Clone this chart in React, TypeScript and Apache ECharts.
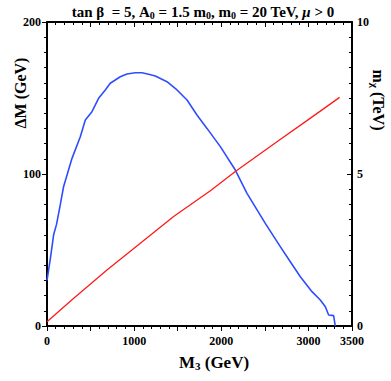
import React, { useEffect, useRef } from "react";
import * as echarts from "echarts";

const blueM3 = [0, 40, 76, 110, 153, 190, 287, 382, 440, 516, 592, 669, 726, 841, 918, 1013, 1090, 1166, 1243, 1377, 1492, 1607, 1721, 1836, 1989, 2161, 2295, 2505, 2677, 2792, 2907, 3041, 3136, 3194, 3232, 3289, 3308];
const blueDM = [30, 45, 60, 67, 80, 91.6, 110.3, 124.5, 135.5, 141, 149.8, 155.3, 159.7, 164, 165.8, 166.6, 166.6, 165.6, 164.5, 160.7, 155.3, 148.7, 138.8, 130, 118, 102.6, 87.3, 67.5, 52.2, 42.3, 32.4, 22.6, 17.1, 12.7, 7.2, 6.8, 0];
const redM3 = [0, 287, 688, 1071, 1453, 1875, 2161, 2639, 3019, 3358];
const redMchi = [0.14, 0.86, 1.84, 2.72, 3.6, 4.45, 5.08, 6.06, 6.83, 7.52];
const xLabels = [0, 1000, 2000, 3000, 3500];

const FONT = "'Liberation Serif', 'Times New Roman', serif";

const mkAxis = (inside: boolean, split: number) => ({
  axisLine: { show: true, onZero: false, lineStyle: { color: "black", width: 2 } },
  axisTick: { show: true, inside, length: 5, lineStyle: { color: "black", width: 1 } },
  minorTick: { show: true, splitNumber: split, length: 3, lineStyle: { color: "black", width: 1 } },
  splitLine: { show: false },
});

export default function App() {
  const ref = useRef<HTMLDivElement>(null);
  useEffect(() => {
    if (!ref.current) return;
    const chart = echarts.init(ref.current, null, { renderer: "svg" });
    chart.setOption({
      animation: false,
      grid: { left: 47, right: 39, top: 22, bottom: 55 },
      xAxis: [
        {
          type: "value", position: "bottom", min: 0, max: 3500, interval: 500, ...mkAxis(false, 5),
          axisLabel: {
            fontFamily: FONT, fontWeight: "bold", fontSize: 12, color: "black", margin: 9,
            formatter: (v: number) => (xLabels.indexOf(v) >= 0 ? String(v) : ""),
          },
        },
        { type: "value", position: "top", min: 0, max: 3500, interval: 500, ...mkAxis(true, 5), axisLabel: { show: false } },
      ],
      yAxis: [
        {
          type: "value", position: "left", min: 0, max: 200, interval: 100, ...mkAxis(false, 10),
          axisLabel: { fontFamily: FONT, fontWeight: "bold", fontSize: 12, color: "black", margin: 6 },
        },
        {
          type: "value", position: "right", min: 0, max: 10, interval: 5, ...mkAxis(true, 10),
          axisLabel: { fontFamily: FONT, fontWeight: "bold", fontSize: 12, color: "black", margin: 5 },
        },
      ],
      series: [
        {
          type: "line", xAxisIndex: 0, yAxisIndex: 0, symbol: "none",
          lineStyle: { color: "#2f4dff", width: 1.6 },
          data: blueM3.map((x, i) => [x, blueDM[i]]),
        },
        {
          type: "line", xAxisIndex: 0, yAxisIndex: 1, symbol: "none",
          lineStyle: { color: "#ff1a1a", width: 1.3 },
          data: redM3.map((x, i) => [x, redMchi[i]]),
        },
      ],
      graphic: [
        {
          type: "text", x: 203, y: 12,
          style: {
            text: "tan β  = 5, A{s|0} = 1.5 m{s|0}, m{s|0} = 20 TeV, {i|μ} > 0",
            font: `bold 15px ${FONT}`, fill: "black", align: "center", verticalAlign: "middle",
            rich: {
              s: { fontSize: 10, fontWeight: "bold", fontFamily: FONT, padding: [6, 0, 0, 0] },
              i: { fontSize: 15, fontWeight: "bold", fontStyle: "italic", fontFamily: FONT },
            },
          },
        },
        {
          type: "text", x: 20, y: 93, rotation: Math.PI / 2,
          style: { text: "ΔM (GeV)", font: `bold 16px ${FONT}`, fill: "black", align: "center", verticalAlign: "middle" },
        },
        {
          type: "text", x: 378, y: 100, rotation: -Math.PI / 2,
          style: {
            text: "m{s|χ} (TeV)", font: `bold 16px ${FONT}`, fill: "black", align: "center", verticalAlign: "middle",
            rich: { s: { fontSize: 11, fontWeight: "bold", fontFamily: FONT, padding: [6, 0, 0, 0] } },
          },
        },
        {
          type: "text", x: 214, y: 362,
          style: {
            text: "M{s|3} (GeV)", font: `bold 17px ${FONT}`, fill: "black", align: "center", verticalAlign: "middle",
            rich: { s: { fontSize: 11, fontWeight: "bold", fontFamily: FONT, padding: [7, 0, 0, 0] } },
          },
        },
      ],
    });
    return () => chart.dispose();
  }, []);
  return <div ref={ref} style={{ width: 391, height: 381, position: "absolute", left: 0, top: 0 }} />;
}
